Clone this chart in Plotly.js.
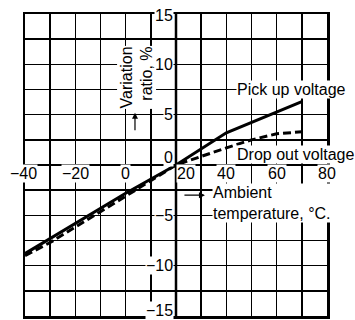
<!DOCTYPE html>
<html>
<head>
<meta charset="utf-8">
<script src="https://cdn.plot.ly/plotly-3.0.1.min.js"></script>
<style>html,body{margin:0;padding:0;background:#fff;}#chart{width:355px;height:320px;}</style>
</head>
<body>
<div id="chart"></div>
<script>
// ---- data ----
var tempPickup = [-40, 0, 20, 40, 70];
var pickupVoltage = [-8.8, -2.8, 0, 3.2, 6.3];
var tempDropout = [-40, -30, 0, 20, 40, 50, 60, 70];
var dropoutVoltage = [-9.0, -7.7, -3.1, 0, 1.7, 2.5, 3.1, 3.3];

var xTickValues = [-40, -20, 0, 20, 40, 60, 80];
var xTickLabels = ['\u221240', '\u221220', '0', '20', '40', '60', '80'];
var yTickValues = [15, 10, 5, 0, -5, -10, -15];
var yTickLabels = ['15', '10', '5', '0', '\u22125', '\u221210', '\u221215'];

var seriesNames = ['Pick up voltage', 'Drop out voltage'];
var xTitle = 'Ambient<br>temperature, \u00b0C.';
var yTitle = 'Variation<br>ratio, %';

// ---- style ----
var FONT = 'Liberation Sans, Arial, Helvetica, sans-serif';
var FS = 16;

var traces = [
  {x: tempPickup, y: pickupVoltage, mode: 'lines', name: seriesNames[0],
   line: {color: '#000', width: 3}},
  {x: tempDropout, y: dropoutVoltage, mode: 'lines', name: seriesNames[1],
   line: {color: '#000', width: 3, dash: '8px,4px'}}
];

var annotations = [];
xTickValues.forEach(function (v, i) {
  var xs = 0;
  if (v === 20) xs = 10;
  if (v === -40) xs = -2;
  annotations.push({x: v, y: 0, xref: 'x', yref: 'y', text: xTickLabels[i],
    showarrow: false, xanchor: 'center', yanchor: 'middle', yshift: -8, xshift: xs,
    bgcolor: '#fff', borderpad: 0, font: {family: FONT, size: FS, color: '#000'}});
});
yTickValues.forEach(function (v, i) {
  var ys = 0;
  if (v === 0) ys = 8;
  if (v === -15) ys = 6;
  if (v === 15) ys = -1;
  annotations.push({x: 20, y: v, xref: 'x', yref: 'y', text: yTickLabels[i],
    showarrow: false, xanchor: 'right', yanchor: 'middle', xshift: -2, yshift: ys,
    bgcolor: '#fff', borderpad: 0, font: {family: FONT, size: FS, color: '#000'}});
});
// series labels
annotations.push({x: 43.8, y: 7.5, xref: 'x', yref: 'y', text: seriesNames[0],
  showarrow: false, xanchor: 'left', yanchor: 'middle', bgcolor: '#fff', borderpad: 0,
  font: {family: FONT, size: FS, color: '#000'}});
annotations.push({x: 43.8, y: 1.0, xref: 'x', yref: 'y', text: seriesNames[1],
  showarrow: false, xanchor: 'left', yanchor: 'middle', bgcolor: '#fff', borderpad: 0,
  font: {family: FONT, size: FS, color: '#000'}});
// x title
annotations.push({x: 34.3, y: -3.8, xref: 'x', yref: 'y', text: xTitle, align: 'left',
  showarrow: false, xanchor: 'left', yanchor: 'middle', bgcolor: '#fff', borderpad: 0,
  font: {family: FONT, size: FS, color: '#000'}});
annotations.push({x: 31.5, y: -3.0, xref: 'x', yref: 'y', text: '', showarrow: true,
  ax: -22, ay: 0, arrowhead: 2, arrowsize: 1, arrowwidth: 1.2, arrowcolor: '#000'});
// y title
annotations.push({x: 4.3, y: 8.75, xref: 'x', yref: 'y', text: yTitle, align: 'right',
  textangle: -90, showarrow: false, xanchor: 'center', yanchor: 'middle',
  bgcolor: '#fff', borderpad: 0, font: {family: FONT, size: FS, color: '#000'}});
annotations.push({x: 3.7, y: 5.2, xref: 'x', yref: 'y', text: '', showarrow: true,
  ax: 0, ay: 19, arrowhead: 2, arrowsize: 1, arrowwidth: 1.2, arrowcolor: '#000'});

var layout = {
  width: 355, height: 320,
  margin: {l: 25, r: 28, t: 14, b: 4, pad: 0},
  paper_bgcolor: '#fff', plot_bgcolor: '#fff',
  showlegend: false,
  font: {family: FONT, size: FS, color: '#000'},
  xaxis: {range: [-40, 80], tick0: -40, dtick: 10, showgrid: true, gridcolor: '#000',
    gridwidth: 1.5, zeroline: false, showticklabels: false, ticks: '',
    showline: true, mirror: true, linecolor: '#000', linewidth: 2.5, fixedrange: true},
  yaxis: {range: [-15, 15], tick0: -15, dtick: 2.5, showgrid: true, gridcolor: '#000',
    gridwidth: 1.5, zeroline: true, zerolinecolor: '#000', zerolinewidth: 2.5,
    showticklabels: false, ticks: '',
    showline: true, mirror: true, linecolor: '#000', linewidth: 2.5, fixedrange: true},
  shapes: [{type: 'line', xref: 'x', yref: 'y', x0: 20, x1: 20, y0: -15, y1: 15,
    line: {color: '#000', width: 2.5}, layer: 'below'}],
  annotations: annotations
};

Plotly.newPlot('chart', traces, layout, {staticPlot: true, displayModeBar: false});
</script>
</body>
</html>
